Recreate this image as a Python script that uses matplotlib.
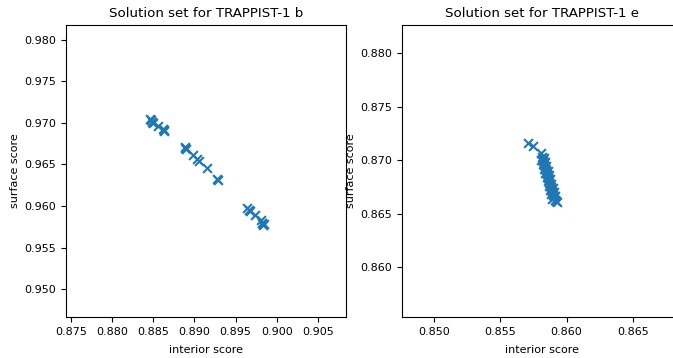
import matplotlib
matplotlib.use("Agg")
import matplotlib.pyplot as plt

# TRAPPIST-1 b solution set (interior score, surface score)
b_interior = [0.88459, 0.88479, 0.88495, 0.88470, 0.88560, 0.88620, 0.88632, 0.88625,
              0.88884, 0.88896, 0.88890, 0.88984, 0.89026, 0.89053, 0.89147, 0.89275, 0.89280,
              0.89640, 0.89672, 0.89660, 0.89733, 0.89802, 0.89826, 0.89834, 0.89820, 0.89840]
b_surface = [0.97045, 0.97016, 0.97000, 0.97030, 0.96964, 0.96924, 0.96904, 0.96915,
             0.96707, 0.96683, 0.96695, 0.96614, 0.96563, 0.96546, 0.96454, 0.96322, 0.96310,
             0.95972, 0.95943, 0.95955, 0.95892, 0.95831, 0.95792, 0.95771, 0.95800, 0.95780]

# TRAPPIST-1 e solution set (interior score, surface score)
e_interior = [0.85711, 0.85744, 0.85805,
              0.85812, 0.85820, 0.85822, 0.85830, 0.85832, 0.85840, 0.85843, 0.85850,
              0.85852, 0.85860, 0.85862, 0.85870, 0.85871, 0.85878, 0.85880, 0.85886,
              0.85888, 0.85895, 0.85898, 0.85905, 0.85910, 0.85925,
              0.85826, 0.85836, 0.85846, 0.85856, 0.85866, 0.85876, 0.85886, 0.85894,
              0.85904, 0.85912, 0.85920,
              0.85810, 0.85820, 0.85830, 0.85840, 0.85850, 0.85858, 0.85866, 0.85876,
              0.85884, 0.85893]
e_surface = [0.87156, 0.87131, 0.87068,
             0.8703, 0.8701, 0.8699, 0.8697, 0.8695, 0.8693, 0.8691, 0.8689,
             0.8687, 0.8685, 0.8683, 0.8681, 0.8679, 0.8677, 0.8675, 0.8673,
             0.8671, 0.8669, 0.8667, 0.8665, 0.8663, 0.8661,
             0.8702, 0.8698, 0.8694, 0.8690, 0.8686, 0.8682, 0.8678, 0.8674,
             0.8670, 0.8666, 0.8662,
             0.8700, 0.8696, 0.8692, 0.8688, 0.8684, 0.8680, 0.8676, 0.8672,
             0.8668, 0.8664]

titles = ["Solution set for TRAPPIST-1 b", "Solution set for TRAPPIST-1 e"]

plt.rcParams['font.family'] = ['DejaVu Sans']
plt.rcParams['font.size'] = 8

W, H = 673, 358
fig = plt.figure(figsize=(W / 100, H / 100), dpi=100)

def rect(x0, y0, x1, y1):
    return [x0 / W, 1 - y1 / H, (x1 - x0) / W, (y1 - y0) / H]

ax1 = fig.add_axes(rect(66, 25, 346, 317))
ax2 = fig.add_axes(rect(402, 25, 682, 317))

ax1.scatter(b_interior, b_surface, marker='x', color='#1f77b4', s=40)
ax1.set_xlim(0.8744, 0.9084)
ax1.set_ylim(0.94663, 0.9818)
ax1.set_xticks([0.875, 0.880, 0.885, 0.890, 0.895, 0.900, 0.905])
ax1.set_yticks([0.950, 0.955, 0.960, 0.965, 0.970, 0.975, 0.980])

ax2.scatter(e_interior, e_surface, marker='x', color='#1f77b4', s=40)
ax2.set_xlim(0.84759, 0.86870)
ax2.set_ylim(0.85533, 0.88262)
ax2.set_xticks([0.850, 0.855, 0.860, 0.865])
ax2.set_yticks([0.860, 0.865, 0.870, 0.875, 0.880])

for ax, t in zip([ax1, ax2], titles):
    ax.set_title(t, fontsize=9.6)
    ax.set_xlabel("interior score", labelpad=6)
    ax.set_ylabel("surface score", labelpad=3)
    ax.xaxis.set_major_formatter(matplotlib.ticker.FormatStrFormatter('%.3f'))
    ax.yaxis.set_major_formatter(matplotlib.ticker.FormatStrFormatter('%.3f'))

fig.savefig("out.png", dpi=100)
